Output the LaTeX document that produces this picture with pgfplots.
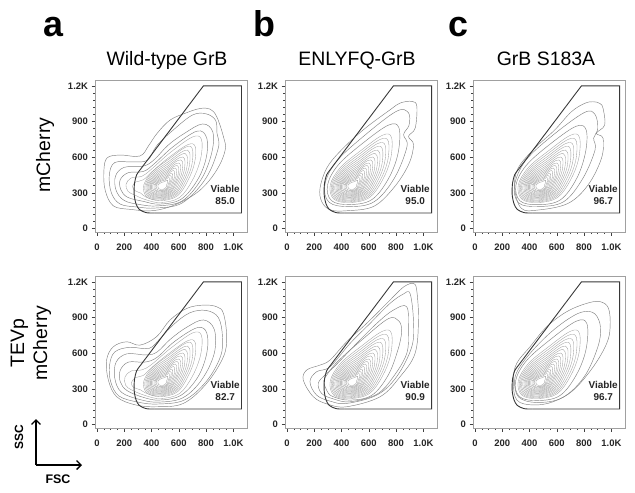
\documentclass[border=0pt]{standalone}
\usepackage{fontspec}
\setmainfont{Liberation Sans}
\usepackage{pgfplots}
\pgfplotsset{compat=1.18}
\usetikzlibrary{arrows.meta}

\definecolor{framegray}{RGB}{160,160,160}
\definecolor{contout}{RGB}{130,130,130}
\definecolor{contin}{RGB}{160,160,160}
\definecolor{gategray}{RGB}{55,55,55}

\pgfplotsset{
  flow/.style={
    scale only axis, width=152bp, height=152bp, anchor=south west,
    xmin=-15, xmax=1100, ymin=-30, ymax=1250,
    xtick={0,200,...,1000}, xticklabels={0,200,400,600,800,1.0K},
    ytick={0,300,...,1200}, yticklabels={0,300,600,900,1.2K},
    minor x tick num=3, minor y tick num=4,
    tick align=outside, xtick pos=bottom, ytick pos=left,
    major tick length=3.5bp, minor tick length=2bp,
    axis line style={framegray, line width=0.6pt},
    tick style={black!75, line width=0.5pt},
    ticklabel style={font=\fontsize{9.5}{10}\selectfont\bfseries, text=black!85},
    xticklabel style={yshift=-5bp},
  },
  cout/.style={smooth cycle, tension=0.6, contout, line width=0.45pt, no marks},
  cin/.style={smooth cycle, tension=0.6, contin, line width=0.35pt, no marks},
  gate/.style={gategray, line width=0.9pt, no marks},
}

% larger core contours (panels without a debris shoulder)
\newcommand\outercore{%
  \addplot[cin] coordinates {(461,218) (603,259) (700,407) (760,587) (766,767) (700,785) (538,653) (390,511) (317,365) (343,247)};
  \addplot[cin] coordinates {(462,225) (595,266) (683,404) (738,569) (743,734) (683,750) (534,629) (397,501) (326,365) (350,253)};
  \addplot[cin] coordinates {(464,233) (588,273) (665,400) (715,550) (720,700) (665,715) (530,605) (404,491) (335,365) (358,259)};
}
% dense core contours, shared by all panels
\newcommand\core{%
  \addplot[cin] coordinates {(465,240) (581,280) (649,397) (695,533) (699,670) (649,684) (526,583) (410,482) (343,365) (365,265)};
  \addplot[cin] coordinates {(467,248) (573,287) (634,394) (675,517) (679,640) (634,652) (523,562) (416,473) (352,365) (373,271)};
  \addplot[cin] coordinates {(468,255) (567,293) (620,391) (657,502) (660,613) (620,624) (520,543) (422,464) (361,365) (380,277)};
  \addplot[cin] coordinates {(469,262) (560,299) (606,388) (639,487) (642,586) (606,596) (516,523) (428,456) (369,365) (387,283)};
  \addplot[cin] coordinates {(471,269) (554,305) (593,386) (623,474) (626,563) (593,572) (514,507) (434,448) (377,365) (394,288)};
  \addplot[cin] coordinates {(472,276) (548,311) (581,383) (607,461) (610,539) (581,547) (511,490) (439,440) (385,365) (401,294)};
  \addplot[cin] coordinates {(473,282) (543,316) (571,381) (594,450) (596,519) (571,526) (508,475) (444,433) (393,365) (407,299)};
  \addplot[cin] coordinates {(475,289) (537,321) (560,379) (580,439) (582,499) (560,505) (506,461) (449,426) (400,365) (414,304)};
  \addplot[cin] coordinates {(476,296) (531,326) (550,377) (567,428) (568,479) (550,484) (504,447) (454,418) (409,365) (421,310)};
  \addplot[cin] coordinates {(478,304) (525,332) (539,375) (553,417) (554,459) (539,463) (501,432) (459,411) (418,365) (429,316)};
  \addplot[cin] coordinates {(479,310) (520,337) (530,373) (542,408) (543,442) (530,446) (499,420) (463,404) (426,365) (435,321)};
  \addplot[cin] coordinates {(481,318) (515,342) (522,371) (531,398) (531,425) (522,428) (497,408) (468,397) (435,365) (443,327)};
  \addplot[cin] coordinates {(483,328) (508,348) (511,369) (517,387) (518,405) (511,407) (495,394) (474,388) (447,365) (453,335)};
}
% the Viable gate
\newcommand\gate[1]{%
  \addplot[gate, smooth, tension=0.5] coordinates {(420,130) (360,133) (310,160) (285,210) (272,290) (275,380) (290,450) (320,500)};
  \addplot[gate] coordinates {(320,500) (780,1200) (1060,1200) (1060,130) (420,130)};
  \node[font=\fontsize{10}{13}\selectfont\bfseries, align=center, text=black!85] at (axis cs:940,282) {Viable\\#1};
}

\begin{document}
\begin{tikzpicture}
\path[use as bounding box] (0,0) rectangle (635bp,-493bp);

% panel letters and titles
\foreach \l/\x in {a/53,b/264,c/458}
  \node[font=\fontsize{36}{36}\selectfont\bfseries, anchor=base] at (\x bp,-36bp) {\l};
\node[font=\fontsize{19.5}{20}\selectfont, anchor=base] at (167bp,-65bp) {Wild-type GrB};
\node[font=\fontsize{19.5}{20}\selectfont, anchor=base] at (357bp,-65bp) {ENLYFQ-GrB};
\node[font=\fontsize{19.5}{20}\selectfont, anchor=base] at (546bp,-65bp) {GrB S183A};

% row labels
\node[rotate=90, font=\fontsize{19.5}{20}\selectfont] at (45bp,-155bp) {mCherry};
\node[rotate=90, align=center, font=\fontsize{19.5}{23}\selectfont] at (31bp,-343bp) {TEVp\\mCherry};

% SSC / FSC key
\draw[-{Straight Barb[length=4.5bp,width=9bp]}, line width=1.3pt] (36bp,-465bp) -- (36bp,-419bp);
\draw[-{Straight Barb[length=4.5bp,width=9bp]}, line width=1.3pt] (36bp,-465bp) -- (82bp,-465bp);
\node[rotate=90, font=\fontsize{12}{12}\selectfont\bfseries] at (19bp,-437bp) {SSC};
\node[font=\fontsize{12.5}{12}\selectfont\bfseries] at (58bp,-479bp) {FSC};

% ---- a, top: Wild-type GrB, mCherry
\begin{axis}[flow, at={(95bp,-232bp)}]
\addplot[cout] coordinates {(413,150) (584,205) (756,323) (878,492) (940,660) (927,773) (878,941) (829,1005) (756,1010) (658,975) (536,913) (440,800) (380,700) (315,610) (169,618) (73,593) (50,480) (60,320) (120,190) (250,160)};
\addplot[cout] coordinates {(430,172) (625,215) (800,425) (890,680) (880,800) (870,910) (800,965) (700,955) (560,830) (440,700) (370,575) (260,560) (130,555) (90,450) (105,300) (170,205) (300,180)};
\addplot[cout] coordinates {(445,190) (625,232) (765,415) (840,631) (850,810) (775,880) (640,800) (520,700) (420,580) (340,525) (200,515) (135,440) (140,320) (200,235) (320,200)};
\addplot[cout] coordinates {(455,205) (615,245) (735,405) (800,590) (805,760) (735,820) (560,690) (420,545) (340,480) (230,470) (170,410) (175,325) (225,262) (340,228)};
\addplot[cin] coordinates {(461,218) (603,259) (700,407) (760,587) (766,750) (700,770) (538,640) (400,500) (330,440) (250,425) (212,370) (228,312) (275,282) (350,245)};
\addplot[cin] coordinates {(464,233) (588,273) (665,400) (715,550) (720,690) (665,705) (530,600) (410,485) (340,410) (285,392) (260,355) (278,318) (320,298) (362,262)};
\core
\gate{85.0}
\end{axis}

% ---- b, top: ENLYFQ-GrB, mCherry
\begin{axis}[flow, at={(285bp,-232bp)}]
\addplot[cout] coordinates {(438,149) (634,185) (781,340) (891,536) (928,705) (891,775) (940,845) (952,1028) (916,1070) (830,1056) (757,1000) (560,831) (389,649) (291,508) (242,340) (254,227) (316,157)};
\addplot[cout] coordinates {(454,184) (639,225) (788,425) (880,690) (855,790) (895,870) (890,975) (800,985) (558,773) (358,558) (277,365) (309,220)};
\addplot[cout] coordinates {(457,201) (621,242) (742,415) (814,631) (821,847) (742,869) (548,711) (375,534) (297,365) (326,234)};
\outercore
\core
\gate{95.0}
\end{axis}

% ---- c, top: GrB S183A, mCherry
\begin{axis}[flow, at={(473bp,-232bp)}]
\addplot[cout] coordinates {(462,155) (682,211) (829,366) (927,590) (939,759) (890,801) (951,871) (939,1011) (915,1053) (866,1067) (804,1053) (707,983) (584,829) (437,674) (315,506) (291,338) (340,169)};
\addplot[cout] coordinates {(460,185) (650,225) (790,420) (880,660) (870,760) (900,840) (880,960) (800,975) (560,775) (370,570) (290,365) (320,215)};
\addplot[cout] coordinates {(460,200) (625,240) (745,420) (810,640) (815,830) (740,860) (545,705) (375,530) (300,365) (330,232)};
\outercore
\core
\gate{96.7}
\end{axis}

% ---- a, bottom: Wild-type GrB, TEVp mCherry
\begin{axis}[flow, at={(95bp,-428bp)}]
\addplot[cout] coordinates {(437,149) (633,177) (804,346) (927,570) (951,739) (927,935) (878,991) (780,1005) (658,977) (535,879) (437,739) (315,668) (217,696) (119,654) (70,542) (83,374) (144,233) (280,165)};
\addplot[cout] coordinates {(445,172) (640,205) (800,360) (905,570) (920,740) (890,900) (800,960) (680,940) (560,840) (460,720) (380,640) (240,650) (130,610) (92,500) (100,360) (160,240) (300,188)};
\addplot[cout] coordinates {(452,188) (630,225) (770,380) (860,600) (860,800) (780,880) (660,820) (540,720) (440,610) (360,585) (220,595) (140,525) (130,390) (180,270) (320,208)};
\addplot[cout] coordinates {(457,205) (615,245) (740,400) (805,600) (805,770) (735,815) (570,700) (440,565) (350,525) (230,525) (170,455) (170,360) (220,285) (340,228)};
\addplot[cin] coordinates {(461,218) (603,259) (700,407) (760,587) (766,750) (700,770) (538,640) (400,505) (330,460) (250,450) (205,400) (210,330) (255,290) (350,245)};
\addplot[cin] coordinates {(464,233) (588,273) (665,400) (715,550) (720,690) (665,705) (530,600) (410,488) (338,412) (282,395) (252,352) (268,312) (318,292) (362,262)};
\core
\gate{82.7}
\end{axis}

% ---- b, bottom: ENLYFQ-GrB, TEVp mCherry
\begin{axis}[flow, at={(285bp,-428bp)}]
\addplot[cout] coordinates {(437,149) (682,233) (829,402) (939,598) (964,879) (951,1132) (927,1188) (878,1174) (829,1132) (731,1019) (584,851) (437,696) (315,542) (242,500) (144,458) (119,374) (193,233) (300,170)};
\addplot[cout] coordinates {(437,177) (658,247) (804,402) (915,654) (927,879) (902,1103) (853,1098) (755,1019) (609,851) (462,682) (315,486) (217,444) (168,360) (217,247) (320,195)};
\addplot[cout] coordinates {(462,191) (660,255) (780,402) (878,598) (890,795) (878,991) (780,963) (658,851) (486,654) (350,490) (278,416) (229,346) (254,261) (340,215)};
\addplot[cout] coordinates {(457,205) (621,245) (742,415) (814,631) (840,780) (821,870) (742,890) (548,711) (375,534) (300,430) (270,365) (290,290) (330,238)};
\outercore
\core
\gate{90.9}
\end{axis}

% ---- c, bottom: GrB S183A, TEVp mCherry
\begin{axis}[flow, at={(473bp,-428bp)}]
\addplot[cout] coordinates {(428,164) (575,192) (722,290) (868,487) (966,683) (991,823) (979,978) (917,1034) (820,1020) (673,950) (526,823) (404,655) (306,515) (281,374) (306,206)};
\addplot[cout] coordinates {(450,185) (640,225) (800,400) (900,650) (920,820) (880,930) (800,950) (700,900) (560,780) (420,620) (320,470) (290,360) (320,230)};
\addplot[cout] coordinates {(457,201) (621,242) (742,415) (814,631) (821,847) (742,869) (548,711) (375,534) (297,365) (326,234)};
\outercore
\core
\gate{96.7}
\end{axis}
\end{tikzpicture}
\end{document}
